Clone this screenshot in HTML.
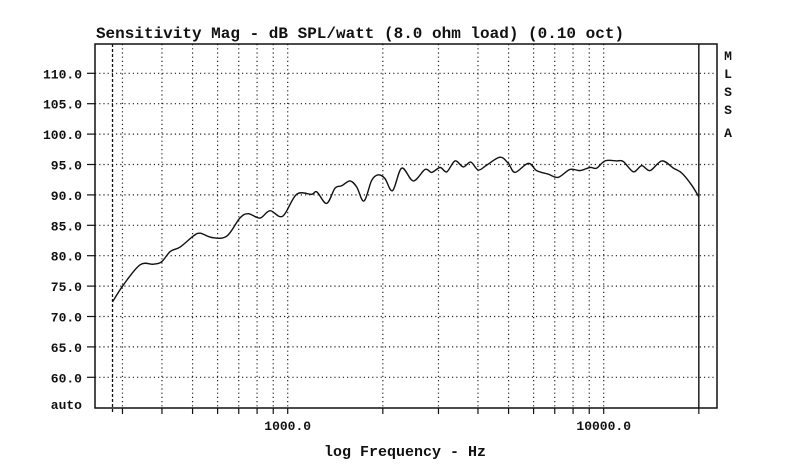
<!DOCTYPE html>
<html><head><meta charset="utf-8"><style>
html,body{margin:0;padding:0;background:#fff;}
svg{display:block;}
text{font-family:"Liberation Mono",monospace;font-weight:bold;fill:#111;}
</style></head><body>
<svg id="chart" width="800" height="466">
<text x="360" y="38" font-size="16" text-anchor="middle">Sensitivity Mag - dB SPL/watt (8.0 ohm load) (0.10 oct)</text>
<g font-size="13">
<text x="728" y="60" text-anchor="middle">M</text>
<text x="728" y="78" text-anchor="middle">L</text>
<text x="728" y="96" text-anchor="middle">S</text>
<text x="728" y="114" text-anchor="middle">S</text>
<text x="728" y="137" text-anchor="middle">A</text>
</g>
<text x="405" y="456" font-size="15" text-anchor="middle">log Frequency - Hz</text>
<g id="grid"></g>
<g id="axes"></g>
<path id="curve" fill="none" stroke="#111" stroke-width="1.4"></path>
</svg>
<script>
const freqs=[279,302,341,376,399,425,456,502,528,575,641,706,750,817,879,964,1067,1191,1236,1328,1412,1482,1575,1653,1743,1844,1935,2031,2148,2295,2497,2721,2856,3035,3187,3384,3594,3795,4011,4263,4697,4990,5239,5771,6135,6680,7184,7821,8410,9051,9503,10100,10995,11535,12410,13190,14020,15280,16620,17660,18990,20030];
const dbValues=[72.4,75.2,78.5,78.6,79.0,80.7,81.4,83.2,83.7,83.0,83.2,86.2,86.9,86.2,87.4,86.5,90.1,90.1,90.5,88.6,91.1,91.5,92.3,91.3,89.0,92.4,93.3,92.7,90.7,94.4,92.3,94.2,93.7,94.5,93.8,95.6,94.6,95.4,94.1,94.9,96.2,95.2,93.7,95.2,94.0,93.4,92.9,94.2,94.0,94.5,94.4,95.6,95.6,95.5,93.8,94.8,94.0,95.6,94.4,93.6,91.6,89.6];
const yTicks=[60,65,70,75,80,85,90,95,100,105,110];
const yTickLabels=["60.0","65.0","70.0","75.0","80.0","85.0","90.0","95.0","100.0","105.0","110.0"];
const xGrid=[300,400,500,600,700,800,900,1000,2000,3000,4000,5000,6000,7000,8000,9000,10000,20000];
const xLabels=[1000,10000];
const xLabelText=["1000.0","10000.0"];

const L=95,R=717,T=44,B=408;
function xs(f){return 287.7+316*Math.log10(f/1000);}
function ys(v){return 73.3+(110-v)*6.08;}
const NS="http://www.w3.org/2000/svg";
const grid=document.getElementById('grid'),axes=document.getElementById('axes');
function mk(tag,attrs,parent){const e=document.createElementNS(NS,tag);for(const k in attrs)e.setAttribute(k,attrs[k]);parent.appendChild(e);return e;}

yTicks.forEach((v,i)=>{
  const y=ys(v);
  const g=mk('line',{x1:L,x2:R,y1:y,y2:y,stroke:'#222','stroke-width':1.2,'stroke-dasharray':'1.2 3'},grid);
  
  
  const t=mk('line',{x1:L-8,x2:L,y1:y,y2:y,stroke:'#111','stroke-width':1.2},axes);
  
  
  const lb=mk('text',{x:82,y:y+5,'font-size':13,'text-anchor':'end'},axes);
  lb.textContent=yTickLabels[i];
  
  
});
const auto=mk('text',{x:82,y:409,'font-size':13,'text-anchor':'end'},axes);
auto.textContent='auto';



xGrid.forEach(f=>{
  const x=xs(f);
  if(f===20000){
    const s=mk('line',{x1:x,x2:x,y1:T,y2:B,stroke:'#111','stroke-width':1.4},grid);
    
    
  } else {
    const g=mk('line',{x1:x,x2:x,y1:T,y2:B,stroke:'#222','stroke-width':1.2,'stroke-dasharray':'1.2 3'},grid);
    
    
  }
  const t=mk('line',{x1:x,x2:x,y1:B,y2:B+6,stroke:'#111','stroke-width':1.2},axes);
  
  
});
const dl=mk('line',{x1:xs(freqs[0]),x2:xs(freqs[0]),y1:T,y2:B+6,stroke:'#111','stroke-width':1.3,'stroke-dasharray':'3 2'},grid);


xLabels.forEach((f,i)=>{
  const lb=mk('text',{x:xs(f),y:430,'font-size':13,'text-anchor':'middle'},axes);
  lb.textContent=xLabelText[i];
  
  
});
const frame=mk('rect',{x:L,y:T,width:R-L,height:B-T,fill:'none',stroke:'#111','stroke-width':1.5},axes);



const P=freqs.map((f,i)=>[xs(f),ys(dbValues[i])]);
let d='M'+P[0][0].toFixed(1)+' '+P[0][1].toFixed(1);
for(let i=0;i<P.length-1;i++){
  const p0=P[Math.max(0,i-1)],p1=P[i],p2=P[i+1],p3=P[Math.min(P.length-1,i+2)];
  const c1=[p1[0]+(p2[0]-p0[0])/6,p1[1]+(p2[1]-p0[1])/6];
  const c2=[p2[0]-(p3[0]-p1[0])/6,p2[1]-(p3[1]-p1[1])/6];
  d+='C'+c1[0].toFixed(1)+' '+c1[1].toFixed(1)+' '+c2[0].toFixed(1)+' '+c2[1].toFixed(1)+' '+p2[0].toFixed(1)+' '+p2[1].toFixed(1);
}
document.getElementById('curve').setAttribute('d',d);
</script>
</body></html>
